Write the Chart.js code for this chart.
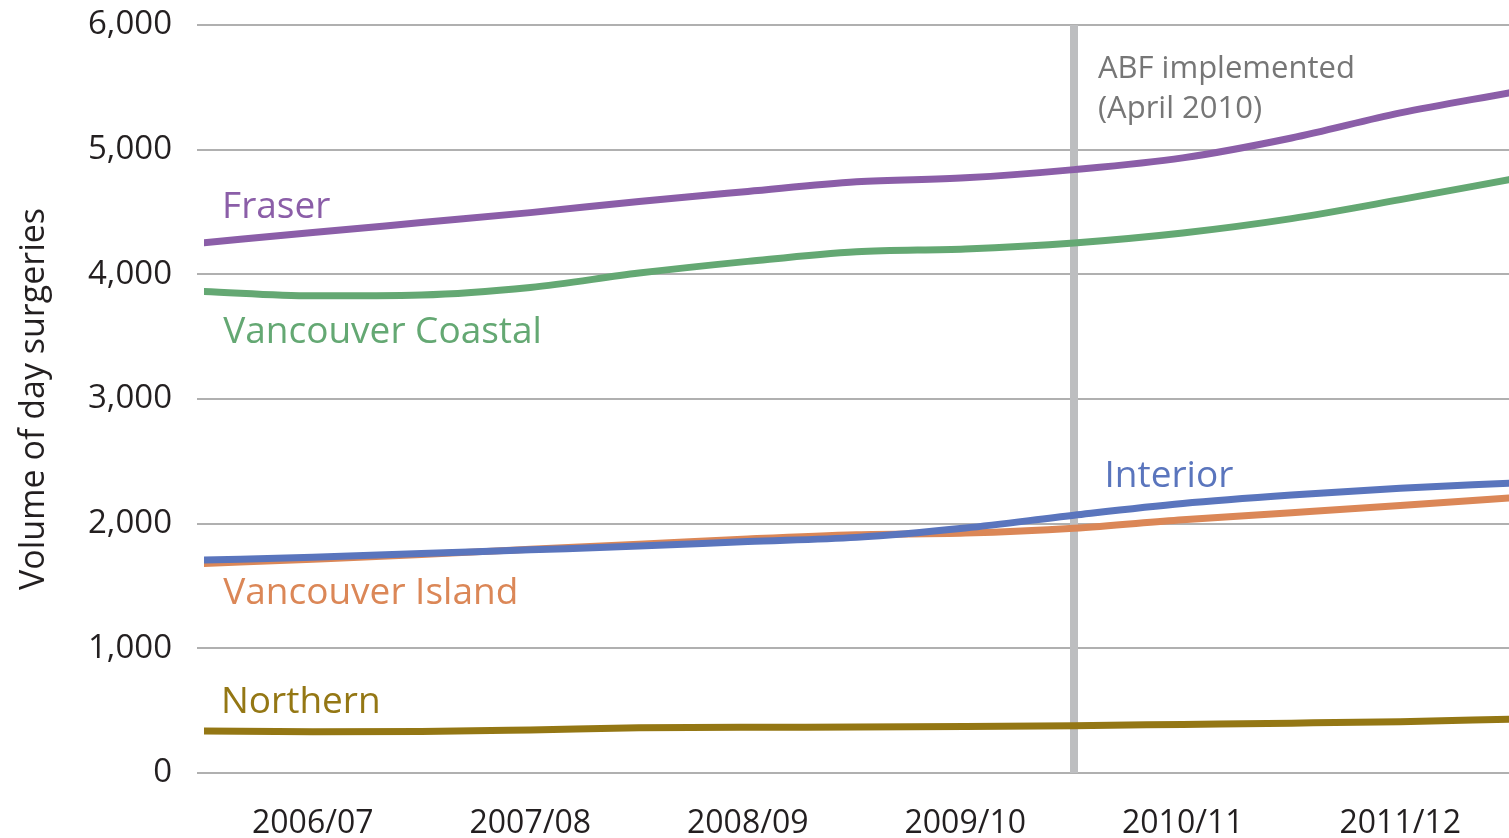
<!DOCTYPE html>
<html>
<head>
<meta charset="utf-8">
<script src="https://cdn.jsdelivr.net/npm/chart.js@4.4.1/dist/chart.umd.min.js"></script>
<style>
  html, body { margin: 0; padding: 0; background: #ffffff; }
  #wrap { width: 1509px; height: 838px; position: relative; }
</style>
</head>
<body>
<div id="wrap"><canvas id="c" width="1509" height="838"></canvas></div>
<script>
// ---- data ----
const categories = ['2006/07', '2007/08', '2008/09', '2009/10', '2010/11', '2011/12'];
const tickPositions = [0.5, 1.5, 2.5, 3.5, 4.5, 5.5];
const samplePositions = [0, 0.5, 1, 1.5, 2, 2.5, 3, 3.5, 4, 4.5, 5, 5.5, 6];
const fraser           = [4254, 4335, 4415, 4495, 4585, 4665, 4742, 4774, 4840, 4934, 5094, 5295, 5456];
const vancouverCoastal = [3863, 3828, 3835, 3895, 4010, 4104, 4182, 4204, 4252, 4332, 4447, 4599, 4760];
const interior         = [1708, 1730, 1760, 1790, 1820, 1856, 1890, 1965, 2068, 2162, 2230, 2285, 2325];
const vancouverIsland  = [1680, 1715, 1752, 1795, 1835, 1878, 1912, 1925, 1964, 2032, 2088, 2145, 2205];
const northern         = [337, 330, 332, 345, 362, 367, 368, 372, 380, 390, 400, 412, 431];
const seriesNames = ['Fraser', 'Vancouver Coastal', 'Interior', 'Vancouver Island', 'Northern'];
const abfPosition = 4;
const abfRange = [0, 6000];
const abfText = ['ABF implemented', '(April 2010)'];
const yTitle = 'Volume of day surgeries';

const colors = {
  'Fraser': '#8b5ea8',
  'Vancouver Coastal': '#64a873',
  'Interior': '#5a75bd',
  'Vancouver Island': '#db8757',
  'Northern': '#947714'
};
const FONT = '"Open Sans", "Noto Sans", sans-serif';

function pts(vals) { return vals.map((v, i) => ({ x: samplePositions[i], y: v })); }

function lineDs(name, vals) {
  return {
    label: name,
    data: pts(vals),
    borderColor: colors[name],
    backgroundColor: colors[name],
    borderWidth: 7,
    borderCapStyle: 'round',
    borderJoinStyle: 'round',
    pointRadius: 0,
    cubicInterpolationMode: 'monotone',
    fill: false,
    order: 0
  };
}

// label anchors: [x value, y value (baseline)]
const labelAnchors = {
  'Fraser':            [0.083, 4452],
  'Vancouver Coastal': [0.088, 3452],
  'Interior':          [4.14, 2298],
  'Vancouver Island':  [0.088, 1357],
  'Northern':          [0.078, 482]
};

const textPlugin = {
  id: 'textLabels',
  afterDatasetsDraw(chart) {
    const ctx = chart.ctx;
    const xs = chart.scales.x, ys = chart.scales.y;
    ctx.save();
    ctx.textAlign = 'left';
    ctx.textBaseline = 'alphabetic';
    ctx.font = '37px ' + FONT;
    seriesNames.forEach(n => {
      const a = labelAnchors[n];
      ctx.fillStyle = colors[n];
      ctx.fillText(n, xs.getPixelForValue(a[0]), ys.getPixelForValue(a[1]));
    });
    ctx.font = '31px ' + FONT;
    ctx.fillStyle = '#767676';
    ctx.fillText(abfText[0], xs.getPixelForValue(4.11), ys.getPixelForValue(5576));
    ctx.fillText(abfText[1], xs.getPixelForValue(4.11), ys.getPixelForValue(5255));
    ctx.restore();
  }
};

const datasets = [
  lineDs('Fraser', fraser),
  lineDs('Vancouver Coastal', vancouverCoastal),
  lineDs('Interior', interior),
  lineDs('Vancouver Island', vancouverIsland),
  lineDs('Northern', northern),
  {
    label: 'ABF',
    data: [{ x: abfPosition, y: abfRange[0] }, { x: abfPosition, y: abfRange[1] }],
    borderColor: '#bdbec0',
    borderWidth: 8,
    borderCapStyle: 'butt',
    pointRadius: 0,
    fill: false,
    order: 5
  }
];

new Chart(document.getElementById('c'), {
  type: 'line',
  data: { datasets },
  plugins: [textPlugin],
  options: {
    responsive: false,
    animation: false,
    devicePixelRatio: 1,
    layout: { padding: { top: 25, right: 0, bottom: 0, left: 0 } },
    plugins: { legend: { display: false }, tooltip: { enabled: false } },
    scales: {
      x: {
        type: 'linear',
        min: 0, max: 6,
        grid: { display: false, drawTicks: false },
        border: { display: false },
        afterBuildTicks(scale) { scale.ticks = tickPositions.map(v => ({ value: v })); },
        afterFit(scale) {
          scale.height = 65;
          scale.paddingLeft = 0; scale.paddingRight = 0;
          scale.paddingTop = 0; scale.paddingBottom = 0;
        },
        ticks: {
          autoSkip: false,
          maxRotation: 0,
          padding: 32,
          color: '#231f20',
          font: { family: FONT, size: 32 },
          callback: (v) => categories[Math.round(v - 0.5)]
        }
      },
      y: {
        min: 0, max: 6000,
        grid: { color: '#b0b0b0', lineWidth: 2, drawTicks: true, tickLength: 7 },
        border: { display: false },
        afterFit(scale) {
          scale.width = 204;
          scale.paddingTop = 0; scale.paddingBottom = 0;
          scale.paddingLeft = 0; scale.paddingRight = 0;
        },
        ticks: {
          stepSize: 1000,
          padding: 25,
          color: '#231f20',
          font: { family: FONT, size: 33 },
          callback: (v) => Number(v).toLocaleString('en-US')
        },
        title: {
          display: true,
          text: yTitle,
          color: '#231f20',
          font: { family: FONT, size: 34 },
          padding: { top: 14, bottom: 0 }
        }
      }
    }
  }
});
</script>
</body>
</html>
